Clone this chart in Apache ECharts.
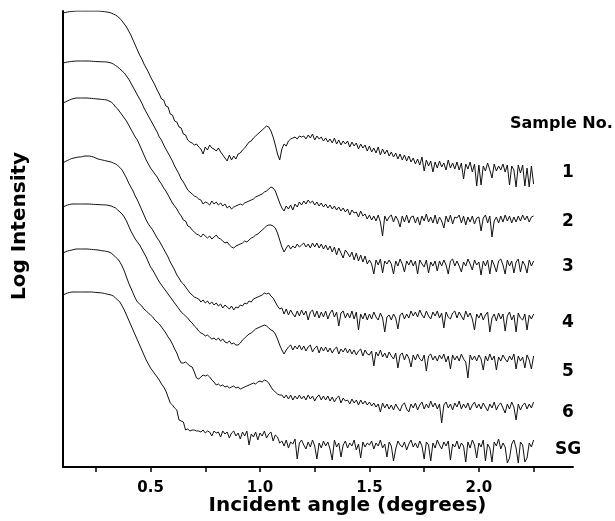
<!DOCTYPE html>
<html>
<head>
<meta charset="utf-8">
<script src="https://cdn.jsdelivr.net/npm/echarts@6/dist/echarts.min.js"></script>
<style>
html,body{margin:0;padding:0;background:#fff;}
#chart{width:615px;height:521px;}
</style>
</head>
<body>
<div id="chart"></div>
<script>
// Incident angle grid (degrees)
const angle = [
0.10,0.11,0.12,0.13,0.14,0.15,0.16,0.17,0.18,0.19,
0.20,0.21,0.22,0.23,0.24,0.25,0.26,0.27,0.28,0.29,
0.30,0.31,0.32,0.33,0.34,0.35,0.36,0.37,0.38,0.39,
0.40,0.41,0.42,0.43,0.44,0.45,0.46,0.47,0.48,0.49,
0.50,0.51,0.52,0.53,0.54,0.55,0.56,0.57,0.58,0.59,
0.60,0.61,0.62,0.63,0.64,0.65,0.66,0.67,0.68,0.69,
0.70,0.71,0.72,0.73,0.74,0.75,0.76,0.77,0.78,0.79,
0.80,0.81,0.82,0.83,0.84,0.85,0.86,0.87,0.88,0.89,
0.90,0.91,0.92,0.93,0.94,0.95,0.96,0.97,0.98,0.99,
1.00,1.01,1.02,1.03,1.04,1.05,1.06,1.07,1.08,1.09,
1.10,1.11,1.12,1.13,1.14,1.15,1.16,1.17,1.18,1.19,
1.20,1.21,1.22,1.23,1.24,1.25,1.26,1.27,1.28,1.29,
1.30,1.31,1.32,1.33,1.34,1.35,1.36,1.37,1.38,1.39,
1.40,1.41,1.42,1.43,1.44,1.45,1.46,1.47,1.48,1.49,
1.50,1.51,1.52,1.53,1.54,1.55,1.56,1.57,1.58,1.59,
1.60,1.61,1.62,1.63,1.64,1.65,1.66,1.67,1.68,1.69,
1.70,1.71,1.72,1.73,1.74,1.75,1.76,1.77,1.78,1.79,
1.80,1.81,1.82,1.83,1.84,1.85,1.86,1.87,1.88,1.89,
1.90,1.91,1.92,1.93,1.94,1.95,1.96,1.97,1.98,1.99,
2.00,2.01,2.02,2.03,2.04,2.05,2.06,2.07,2.08,2.09,
2.10,2.11,2.12,2.13,2.14,2.15,2.16,2.17,2.18,2.19,
2.20,2.21,2.22,2.23,2.24,2.25
];

// Log intensity (offset, arbitrary units) for each sample
const sample1 = [
454,454.5,455,455.3,455.6,455.8,456,456,456,456,
456,456,456,456,456,456,456,455.8,455.6,455.3,
455,454.6,454,453,452,450.5,448.5,446,443,440,
436,432,427,422,417,412,408,403,399,395,
390,386,382,377,373,368,367,361,360,353,
352,346,345,340,339,333,332,327,325,324,
322,323,320,318,313,320,317,322,319,318,
316,319,315,312,309,306,312,307,311,308,
313,314,317,319,322,325,326,329,331,333,
335,337,339,341,340,336,330,322,313,307,
318,323,321,326,328,329,330,328,331,330,
331,328,332,329,333,327,331,328,330,326,
329,325,328,324,329,323,327,322,326,323,
326,320,325,321,324,318,323,319,322,316,
321,315,319,314,320,312,318,313,317,311,
315,310,314,308,313,307,312,306,311,305,
309,303,308,302,310,296,307,301,306,295,
305,299,306,300,304,297,307,299,304,298,
305,297,304,288,303,298,305,295,303,281,
302,282,301,296,304,297,289,303,296,301,
297,303,295,302,282,301,297,280,302,294,
302,281,299,280,301,283
];
const sample2 = [
404,404.5,405,405.3,405.6,405.8,406,406,406,406,
406,406,406,405.8,405.6,405.5,405.4,405.3,405.2,405.1,
405,404.6,404,403,401.5,400,398,396,394,391,
388,384,380,376,372,368,364,359,355,351,
347,343,339,335,330,327,322,318,314,310,
306,301,297,293,288,285,281,277,275,273,
271,270,268,267,263,265,264,262,266,263,
265,262,264,261,263,259,261,258,260,261,
262,263,262,264,265,266,267,268,270,271,
272,273,275,276,278,280,279,276,270,264,
259,256,261,258,262,257,263,260,265,262,
266,263,267,264,266,262,265,261,264,260,
263,259,262,258,261,257,260,256,259,255,
258,252,257,254,255,250,256,251,253,248,
252,247,251,246,252,245,231,251,246,250,
252,245,251,247,240,251,245,252,244,250,
251,244,250,242,251,246,253,245,250,244,
252,243,250,246,239,251,245,252,243,250,
249,252,244,251,242,250,245,251,243,249,
250,236,249,252,244,251,230,246,250,244,
251,245,252,246,251,244,250,245,251,246,
252,247,251,245,250,251
];
const sample3 = [
364,365,366,367,368,368.5,369,369,369,369,
369,369,368.8,368.6,368.4,368.2,368,367.8,367.5,367.3,
367,366,365,363,360,358,355,352,349,346,
342,338,334,330,327,322,317,312,307,303,
299,296,293,290,286,283,279,276,272,268,
264,261,258,254,251,247,246,241,240,237,
235,233,232,230,233,231,229,231,228,230,
232,229,228,226,224,225,222,220,219,221,
222,223,224,226,225,227,229,230,232,233,
235,237,239,241,242,242,241,239,234,227,
220,215,219,222,218,221,219,223,220,222,
224,220,223,219,224,220,224,219,223,218,
222,217,221,215,220,212,219,214,209,217,
214,210,215,207,214,206,212,205,211,203,
207,203,193,207,202,208,194,206,203,207,
203,193,206,201,208,203,195,206,202,207,
201,206,193,207,203,200,207,194,205,201,
206,196,206,201,207,202,193,206,208,201,
206,201,195,205,201,208,203,197,207,202,
205,192,206,201,207,193,207,202,195,206,
208,202,193,207,201,206,194,205,208,195,
206,202,194,207,201,206
];
const sample4 = [
304,305.5,306.5,307.5,308.5,309,309.5,310,310,310.5,
311,311,311,310.5,310,309,308,307.5,307,306.5,
306,305.5,305,304,303,301.5,299.5,297,293,289,
284,280,276,271,267,262,257,252,247,243,
240,237,233,229,226,222,218,214,210,205,
201,197,192,189,185,183,180,177,174,172,
170,169,168,165,167,164,166,163,165,162,
164,161,163,159,162,160,158,161,157,160,
159,162,161,164,163,166,165,168,169,170,
171,172,174,173,174,171,169,165,161,158,
159,153,158,152,157,153,150,156,151,157,
152,156,147,155,157,150,156,149,155,150,
156,148,154,157,150,155,141,154,156,149,
154,149,156,148,155,137,153,148,154,147,
153,148,155,150,147,154,149,135,150,152,
147,153,149,138,152,154,148,153,149,156,
151,155,150,157,152,149,156,151,148,155,
151,156,149,154,139,155,150,148,154,156,
149,155,151,147,156,150,154,148,137,153,
149,154,147,152,155,135,149,153,146,154,
148,153,136,151,155,147,152,135,154,149,
147,153,137,152,148,153
];
const sample5 = [
260,261,262,262.5,263,263,263,263,263,263,
263,263,263,262.8,262.6,262.5,262.4,262.3,262.2,262.1,
262,261.5,261,260,259,257,255,253,250,246,
241,236,232,228,225,222,218,214,210,205,
200,197,193,189,185,182,179,176,173,170,
167,164,161,158,155,153,151,149,146,144,
141,139,136,134,133,131,132,130,128,129,
127,129,126,128,125,124,126,123,124,122,
122,124,127,129,131,133,134,136,138,139,
140,141,142,141,139,137,136,133,128,122,
117,113,117,120,122,117,121,118,122,117,
121,116,120,122,115,119,121,114,120,116,
120,115,119,114,118,120,113,118,115,119,
114,118,113,117,112,116,118,111,117,113,
112,116,101,115,111,117,110,114,109,115,
111,108,114,99,112,114,107,113,109,100,
112,107,113,108,106,112,96,111,113,107,
111,106,112,108,113,105,111,98,112,107,
111,106,113,108,105,89,112,107,111,106,
112,108,97,111,106,113,107,111,97,110,
106,112,108,105,111,107,113,98,111,106,
110,99,112,107,98,111
];
const sample6 = [
214,215,216,216.5,217,217.5,218,218,218,218,
218,218,217.8,217.6,217.4,217.2,217,216.6,216.2,216,
215.5,215,214,212,210,208,205,201,196,190,
184,179,174,169,165,163,161,158,156,154,
152,150,147,145,143,140,137,134,130,127,
123,118,114,108,104,104,105,103,101,100,
95,89,88,90,92,91,92,90,87,85,
82,83,81,82,80,81,79,80,81,79,
80,78,79,80,81,82,83,84,83,85,
86,85,87,86,84,80,77,75,73,72,
72,69,72,68,72,67,71,68,72,68,
71,67,72,68,71,66,70,72,67,71,
67,71,66,70,65,69,71,64,69,66,
67,63,68,64,67,62,67,63,66,62,
65,61,64,60,63,55,64,59,63,58,
62,57,63,59,56,62,64,58,55,63,
59,64,57,62,65,58,63,59,66,60,
64,58,63,44,62,65,59,63,57,64,
60,66,58,63,59,64,57,62,65,59,
63,58,64,60,56,63,59,65,57,62,
64,59,54,63,58,65,60,47,63,57,
62,64,58,63,59,65
];
const sampleSG = [
172,173,174,174.5,175,175,175,175,175,175,
175,175,175,175,174.8,174.6,174.4,174.2,174,173.5,
173,172.5,172,171,169,167,165,161,157,152,
147,142,137,132,127,122,117,112,107,103,
99,96,93,90,87,83,80,76,70,64,
62,59,57,47,46,45,37,38,36,37,
37,36,36,35,37,34,36,35,31,36,
34,35,30,36,33,35,29,34,36,31,
34,28,35,31,36,22,33,30,35,27,
34,31,36,29,33,35,26,32,30,24,
26,21,27,19,25,23,28,8,24,27,
22,18,25,20,27,21,8,24,19,26,
21,25,18,7,27,20,24,10,22,26,
19,24,21,27,17,23,9,25,20,24,
22,26,18,24,21,27,19,23,10,25,
21,6,18,26,22,20,25,17,23,27,
20,24,19,26,21,8,25,22,6,24,
19,27,22,18,25,21,26,7,23,20,
26,18,24,21,5,25,19,27,22,9,
24,20,27,6,23,19,5,25,21,28,
18,24,20,4,9,23,27,19,4,25,
22,5,9,24,20,27
];

const sampleNames = ['1','2','3','4','5','6','SG'];
const sampleSeries = [sample1, sample2, sample3, sample4, sample5, sample6, sampleSG];
const majorTicks = [0.5, 1.0, 1.5, 2.0];
const minorTicks = [0.25, 0.5, 0.75, 1.0, 1.25, 1.5, 1.75, 2.0, 2.25];
const labelY = [173, 222, 267, 323, 372, 413, 450];

const FONT = '"DejaVu Sans", sans-serif';
const chart = echarts.init(document.getElementById('chart'), null, {renderer: 'canvas'});

const series = sampleSeries.map((vals, k) => ({
  name: sampleNames[k],
  type: 'line',
  showSymbol: false,
  symbol: 'none',
  smooth: false,
  data: vals.map((v, i) => [angle[i], v]),
  lineStyle: {color: '#111', width: 1},
  emphasis: {disabled: true},
  animation: false
}));

const graphic = [{
  type: 'text', left: 510, top: 116,
  style: {text: 'Sample No.', font: 'bold 16px ' + FONT, fill: '#000'}
}].concat(sampleNames.map((n, k) => ({
  type: 'text', x: 568, y: labelY[k],
  style: {text: n, font: 'bold 17px ' + FONT, fill: '#000', align: 'center', verticalAlign: 'middle'}
})));

chart.setOption({
  animation: false,
  backgroundColor: '#fff',
  grid: {left: 63, right: 42, top: 11, bottom: 54, containLabel: false, outerBoundsMode: 'none'},
  xAxis: {
    type: 'value', min: 0.1, max: 2.43,
    name: 'Incident angle (degrees)',
    nameLocation: 'middle', nameGap: 29, nameMoveOverlap: false,
    nameTextStyle: {fontFamily: FONT, fontWeight: 'bold', fontSize: 20, color: '#000', padding: [0, 0, 0, 59]},
    axisLine: {show: true, onZero: false, lineStyle: {color: '#000', width: 2}},
    axisTick: {show: true, customValues: minorTicks, length: 5, inside: false, lineStyle: {color: '#000', width: 1.5}},
    axisLabel: {show: true, customValues: majorTicks, margin: 14, fontFamily: FONT, fontWeight: 'bold', fontSize: 15, color: '#000',
      formatter: v => Number(v).toFixed(1)},
    splitLine: {show: false}
  },
  yAxis: {
    type: 'value', min: 0, max: 456,
    name: 'Log Intensity',
    nameLocation: 'middle', nameGap: 33, nameMoveOverlap: false,
    nameTextStyle: {fontFamily: FONT, fontWeight: 'bold', fontSize: 20, color: '#000', padding: [0, 0, 0, 26]},
    axisLine: {show: true, onZero: false, lineStyle: {color: '#000', width: 2}},
    axisTick: {show: false},
    axisLabel: {show: false},
    splitLine: {show: false}
  },
  graphic: graphic,
  series: series
});
</script>
</body>
</html>
